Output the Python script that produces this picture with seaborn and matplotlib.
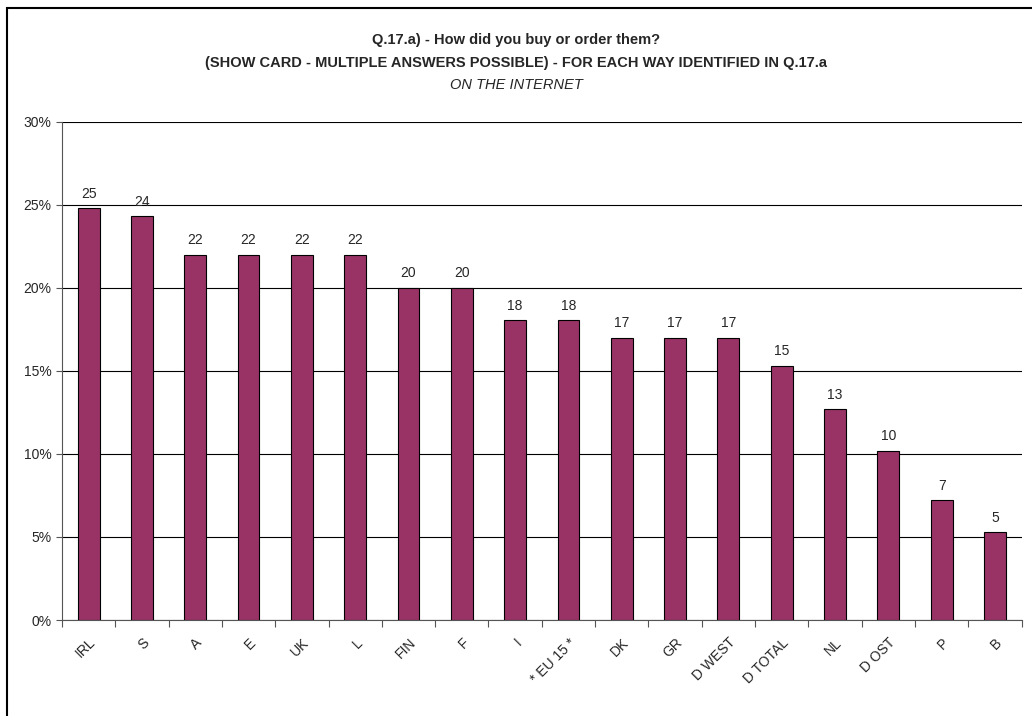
import numpy as np
import pandas as pd
import seaborn as sns
import matplotlib.pyplot as plt
from matplotlib.patches import Rectangle

countries = ['IRL', 'S', 'A', 'E', 'UK', 'L', 'FIN', 'F', 'I', '* EU 15 *',
             'DK', 'GR', 'D WEST', 'D TOTAL', 'NL', 'D OST', 'P', 'B']
values = [24.8, 24.3, 22.0, 22.0, 22.0, 22.0, 20.0, 20.0, 18.05, 18.05,
          17.0, 17.0, 17.0, 15.3, 12.7, 10.2, 7.2, 5.3]
labels = [25, 24, 22, 22, 22, 22, 20, 20, 18, 18, 17, 17, 17, 15, 13, 10, 7, 5]

df = pd.DataFrame({'country': countries, 'value': values})

sns.set_style('white')
plt.rcParams['font.family'] = ['Liberation Sans', 'DejaVu Sans']

fig = plt.figure(figsize=(10.32, 7.16), dpi=100)
ax = fig.add_axes([0.060, 0.134, 0.930, 0.696])

sns.barplot(data=df, x='country', y='value', color='#993366', width=0.41,
            edgecolor='black', linewidth=0.8, saturation=1, ax=ax)

# value labels above bars
for i, (v, lab) in enumerate(zip(values, labels)):
    ax.text(i, v + 0.45, str(lab), ha='center', va='bottom', fontsize=10)

ax.set_ylim(0, 30)
ax.set_xlim(-0.5, len(countries) - 0.5)
ax.set_yticks(range(0, 31, 5))
ax.set_yticklabels([f'{t}%' for t in range(0, 31, 5)], fontsize=10)
ax.yaxis.grid(True, color='black', linewidth=0.8)
ax.set_axisbelow(True)
ax.tick_params(axis='y', left=True, length=4, width=0.8, color='#555555')

ax.set_xticks(range(len(countries)))
ax.set_xticklabels(countries, rotation=45, ha='right', rotation_mode='anchor', fontsize=10)
ax.set_xticks(np.arange(-0.5, len(countries), 1), minor=True)
ax.tick_params(axis='x', which='major', length=0, pad=11)
ax.tick_params(axis='x', which='minor', bottom=True, length=5, width=0.8, color='#555555')
ax.set_xlabel('')
ax.set_ylabel('')

for s in ['top', 'right']:
    ax.spines[s].set_visible(False)
ax.spines['left'].set_color('#555555')
ax.spines['bottom'].set_color('#555555')

fig.text(0.5, 0.944, 'Q.17.a) - How did you buy or order them?', ha='center',
         va='center', fontsize=10.5, fontweight='bold')
fig.text(0.5, 0.912, '(SHOW CARD - MULTIPLE ANSWERS POSSIBLE) - FOR EACH WAY IDENTIFIED IN Q.17.a',
         ha='center', va='center', fontsize=10.5, fontweight='bold')
fig.text(0.5, 0.881, 'ON THE INTERNET', ha='center', va='center', fontsize=10.5,
         fontstyle='italic')

fig.patches.append(Rectangle((0.007, -0.02), 1.1, 1.009, transform=fig.transFigure,
                             fill=False, edgecolor='black', linewidth=1.5))

fig.savefig('out.png', dpi=100)
